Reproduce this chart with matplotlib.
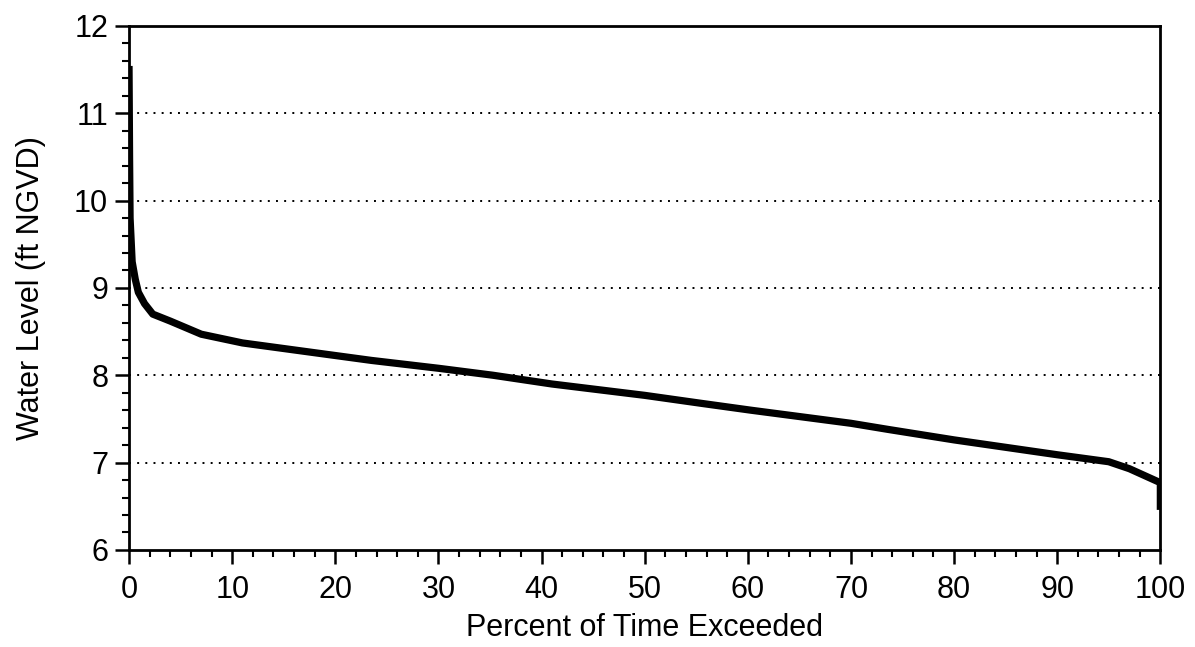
import matplotlib.pyplot as plt
from matplotlib.ticker import MultipleLocator

plt.rcParams['font.family'] = ['Liberation Sans', 'DejaVu Sans']

# duration curve
pct_exceeded = [0, 0.05, 0.1, 0.3, 0.6, 0.9, 1.5, 2.3, 4, 7, 11, 18.5, 23.5,
                30, 35.3, 41, 50, 55.4, 60.3, 70, 73.6, 80, 90, 95, 97, 100, 100]
water_level = [11.5, 10.5, 9.8, 9.3, 9.1, 8.95, 8.82, 8.70, 8.62, 8.47, 8.37,
               8.25, 8.17, 8.08, 8.0, 7.9, 7.77, 7.68, 7.6, 7.45, 7.38, 7.26,
               7.09, 7.01, 6.93, 6.77, 6.5]
grid_levels = [7, 8, 9, 10, 11]

fig = plt.figure(figsize=(11.95, 6.47), dpi=100)
ax = fig.add_axes([0.108, 0.150, 0.863, 0.810])

for g in grid_levels:
    ax.axhline(g, color='k', lw=1.4, ls=(0, (1, 3.2)), zorder=1)

ax.plot(pct_exceeded, water_level, color='k', lw=5.2, solid_joinstyle='round', zorder=3)

ax.set_xlim(0, 100)
ax.set_ylim(6, 12)
ax.xaxis.set_major_locator(MultipleLocator(10))
ax.xaxis.set_minor_locator(MultipleLocator(2))
ax.yaxis.set_major_locator(MultipleLocator(1))
ax.yaxis.set_minor_locator(MultipleLocator(0.2))

for s in ax.spines.values():
    s.set_linewidth(2)
ax.tick_params(which='major', direction='out', length=10, width=1.8, labelsize=22, pad=5)
ax.tick_params(axis='x', which='major', pad=8)
ax.tick_params(which='minor', direction='out', length=5, width=1.5)

ax.set_xlabel('Percent of Time Exceeded', fontsize=22, labelpad=6)
ax.set_ylabel('Water Level (ft NGVD)', fontsize=22, labelpad=20)

fig.savefig('out.png', dpi=100)
